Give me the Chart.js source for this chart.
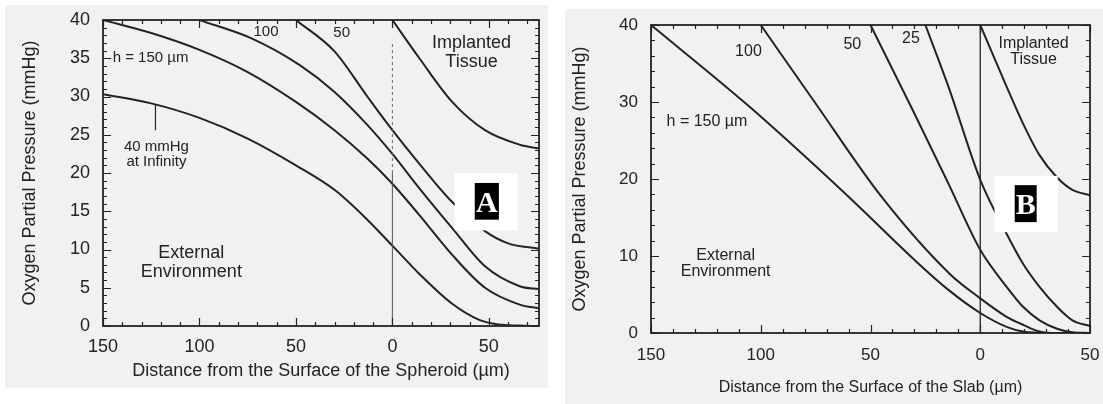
<!DOCTYPE html>
<html>
<head>
<meta charset="utf-8">
<script src="https://cdn.jsdelivr.net/npm/chart.js@4.4.0/dist/chart.umd.min.js"></script>
<style>
  html, body { margin: 0; padding: 0; background: #fff; }
  body { width: 1103px; height: 404px; position: relative; overflow: hidden; }
  canvas { position: absolute; top: 0; }
  #spheroid { left: 0; }
  #slab { left: 548px; }
</style>
</head>
<body>
<canvas id="spheroid" width="548" height="404"></canvas>
<canvas id="slab" width="555" height="404"></canvas>
<script>
const INK = '#232323';
const FONT = '"Liberation Sans", Arial, Helvetica, sans-serif';

// --- Spheroid: distance from surface (negative = outside, in the medium)
const xTicksA = [-150, -100, -50, 0, 50];
const yTicksA = [0, 5, 10, 15, 20, 25, 30, 35, 40];

const infX = [-150, -125, -100, -75, -50, -30, -13, 0, 14, 31, 45, 55, 65, 76];
const infY = [30.3, 29.1, 27.2, 24.5, 21.0, 17.8, 13.9, 10.5, 6.8, 2.9, 0.8, 0.2, 0.05, 0];
const a150X = [-150, -125, -100, -75, -50, -30, -13, 0, 14, 31, 48, 66, 76];
const a150Y = [40, 38.3, 36.1, 33.2, 29.3, 25.6, 21.9, 18.6, 14.5, 9.3, 5.0, 2.8, 2.3];
const a100X = [-100, -73, -48, -30, -13, 0, 14, 31, 48, 66, 76];
const a100Y = [40, 37.6, 34.1, 30.6, 26.3, 22.5, 18.0, 12.8, 7.8, 5.2, 4.8];
const a50X = [-50, -30, -13, 0, 14, 31, 48, 60, 76];
const a50Y = [40, 35.9, 30.0, 25.6, 21.2, 16.2, 12.4, 10.8, 10.1];
const aTissueX = [0, 14, 31, 48, 66, 76];
const aTissueY = [40, 35, 29.3, 25.6, 23.7, 23.2];

// --- Slab
const xTicksB = [-150, -100, -50, 0, 50];
const yTicksB = [0, 10, 20, 30, 40];

const b150X = [-150, -106, -60, -30, -14.5, 0, 12, 20, 30, 50];
const b150Y = [40, 29.6, 17.7, 9.5, 5.6, 2.6, 0.8, 0.15, 0, 0];
const b100X = [-100, -75, -45, -14, 0, 12, 20, 27, 35, 50];
const b100Y = [40, 29.8, 17.7, 7.7, 4.5, 2.1, 1.0, 0.2, 0, 0];
const b50X = [-50, -30, -14.5, 0, 12, 19.5, 27, 35, 42, 50];
const b50Y = [40, 28.5, 19.4, 10.8, 6.0, 3.4, 1.65, 0.56, 0.1, 0];
const b25X = [-25, -14.5, 0, 12, 19.5, 27, 35, 42, 50];
const b25Y = [40, 32, 19.9, 12.9, 9.0, 6.0, 3.4, 1.65, 0.9];
const bTissueX = [0, 12, 19.5, 27, 35, 42, 50];
const bTissueY = [40, 32, 27.2, 23.1, 20.2, 18.6, 17.9];

function curve(xs, ys, extra) {
  return Object.assign({
    data: xs.map((x, i) => ({ x, y: ys[i] })),
    showLine: true,
    borderColor: INK,
    borderWidth: 2,
    pointRadius: 0,
    cubicInterpolationMode: 'monotone',
    fill: false,
  }, extra || {});
}

// paper background, boxed frame with inward ticks, and the in-plot labels
const panelDecor = {
  id: 'panelDecor',
  beforeDraw(chart, args, o) {
    const ctx = chart.ctx;
    const [x0, y0, x1, y1] = o.paperRect;
    ctx.save();
    ctx.fillStyle = '#f1f1f1';
    ctx.fillRect(x0, y0, x1 - x0, y1 - y0);
    ctx.restore();
  },
  afterDatasetsDraw(chart, args, o) {
    const { ctx, chartArea: a, scales: { x, y } } = chart;
    ctx.save();
    ctx.strokeStyle = INK;

    ctx.lineWidth = 1.2;
    ctx.beginPath();
    for (let v = Math.ceil(x.min / o.xMinor) * o.xMinor; v <= x.max; v += o.xMinor) {
      const px = Math.round(x.getPixelForValue(v)) + 0.5;
      const len = v % o.xMajor === 0 ? 8 : 4;
      ctx.moveTo(px, a.bottom); ctx.lineTo(px, a.bottom - len);
      ctx.moveTo(px, a.top); ctx.lineTo(px, a.top + len);
    }
    for (let v = y.min; v <= y.max; v += o.yMinor) {
      const py = Math.round(y.getPixelForValue(v)) + 0.5;
      const len = v % o.yMajor === 0 ? 8 : 4;
      ctx.moveTo(a.left, py); ctx.lineTo(a.left + len, py);
      ctx.moveTo(a.right, py); ctx.lineTo(a.right - len, py);
    }
    ctx.stroke();

    ctx.lineWidth = 1.8;
    ctx.strokeRect(a.left, a.top, a.right - a.left, a.bottom - a.top);

    // short pointer from a label up to its curve
    ctx.lineWidth = 1.2;
    (o.pointers || []).forEach(([vx, v0, v1]) => {
      const px = x.getPixelForValue(vx);
      ctx.beginPath();
      ctx.moveTo(px, y.getPixelForValue(v0));
      ctx.lineTo(px, y.getPixelForValue(v1));
      ctx.stroke();
    });

    ctx.fillStyle = INK;
    ctx.textBaseline = 'middle';
    o.labels.forEach(l => {
      ctx.font = `${l.size}px ${FONT}`;
      ctx.textAlign = l.align || 'center';
      const px = x.getPixelForValue(l.x);
      const py = y.getPixelForValue(l.y);
      l.text.forEach((t, i) => ctx.fillText(t, px, py + i * l.gap));
    });

    // panel letter
    const t = o.tag;
    const rect = (r) => {
      const rx0 = x.getPixelForValue(r[0]), rx1 = x.getPixelForValue(r[1]);
      const ry0 = y.getPixelForValue(r[2]), ry1 = y.getPixelForValue(r[3]);
      return [rx0, ry0, rx1 - rx0, ry1 - ry0];
    };
    ctx.fillStyle = '#ffffff';
    ctx.fillRect(...rect(t.outer));
    ctx.fillStyle = '#000000';
    const inner = rect(t.inner);
    ctx.fillRect(...inner);
    ctx.fillStyle = '#ffffff';
    ctx.font = `bold 30px "Liberation Serif", "Times New Roman", serif`;
    ctx.textAlign = 'center';
    ctx.textBaseline = 'alphabetic';
    ctx.fillText(t.letter, inner[0] + inner[2] / 2, inner[1] + inner[3] - 8);
    ctx.restore();
  },
};

function makePanel(canvas, p) {
  return new Chart(canvas, {
    type: 'scatter',
    data: { datasets: p.datasets },
    options: {
      responsive: false,
      animation: false,
      events: [],
      layout: { padding: p.padding },
      plugins: {
        legend: { display: false },
        tooltip: { enabled: false },
        panelDecor: p.decor,
      },
      scales: {
        x: {
          type: 'linear',
          min: p.xMin,
          max: p.xMax,
          afterBuildTicks: s => { s.ticks = p.xTicks.map(value => ({ value })); },
          afterFit: s => {
            s.height = p.xAxisHeight;
            s.paddingLeft = 0;
            s.paddingRight = 0;
          },
          grid: { display: false, drawTicks: false },
          border: { display: false },
          ticks: {
            padding: p.xTickPad,
            color: INK,
            maxRotation: 0,
            autoSkip: false,
            font: { family: FONT, size: p.tickSize },
            callback: v => Math.abs(v),
          },
          title: {
            display: true,
            text: p.xTitle,
            color: INK,
            font: { family: FONT, size: p.xTitleSize },
            padding: { top: 0, bottom: p.xTitlePad },
          },
        },
        y: {
          type: 'linear',
          min: 0,
          max: 40,
          afterBuildTicks: s => { s.ticks = p.yTicks.map(value => ({ value })); },
          afterFit: s => {
            s.width = p.yAxisWidth;
            s.paddingTop = 0;
            s.paddingBottom = 0;
          },
          grid: { display: false, drawTicks: false },
          border: { display: false },
          ticks: {
            padding: p.yTickPad,
            color: INK,
            autoSkip: false,
            font: { family: FONT, size: p.tickSize },
          },
          title: {
            display: true,
            text: 'Oxygen Partial Pressure (mmHg)',
            color: INK,
            font: { family: FONT, size: 18 },
            padding: { top: p.yTitlePad, bottom: 0 },
          },
        },
      },
    },
    plugins: [panelDecor],
  });
}

makePanel(document.getElementById('spheroid'), {
  datasets: [
    curve([0, 0], [0, 20], { borderWidth: 1, borderColor: '#555', cubicInterpolationMode: 'default' }),
    curve([0, 0], [20, 37], { borderWidth: 1, borderColor: '#666', borderDash: [3, 3], cubicInterpolationMode: 'default' }),
    curve(infX, infY),
    curve(a150X, a150Y),
    curve(a100X, a100Y),
    curve(a50X, a50Y),
    curve(aTissueX, aTissueY),
  ],
  padding: { left: 0, top: 20, right: 9, bottom: 0 },
  xMin: -150, xMax: 76,
  xTicks: xTicksA, yTicks: yTicksA,
  xAxisHeight: 78, yAxisWidth: 103,
  tickSize: 18, xTickPad: 10, yTickPad: 13,
  xTitle: 'Distance from the Surface of the Spheroid (\u00b5m)',
  xTitleSize: 18, xTitlePad: 22, yTitlePad: 19,
  decor: {
    paperRect: [5, 5, 548, 388],
    xMinor: 10, xMajor: 50, yMinor: 1, yMajor: 5,
    pointers: [[-122.8, 25.6, 28.9]],
    labels: [
      { x: -145, y: 35, text: ['h = 150 \u00b5m'], size: 15, align: 'left', gap: 0 },
      { x: -65.5, y: 38.5, text: ['100'], size: 15, gap: 0 },
      { x: -26.3, y: 38.3, text: ['50'], size: 15, gap: 0 },
      { x: 41, y: 37.0, text: ['Implanted', 'Tissue'], size: 18, gap: 19 },
      { x: -122.3, y: 23.4, text: ['40 mmHg', 'at Infinity'], size: 15, gap: 15 },
      { x: -104.2, y: 9.5, text: ['External', 'Environment'], size: 18, gap: 18.5 },
    ],
    tag: { outer: [32.3, 65, 20, 12.5], inner: [42.7, 55.2, 18.7, 13.9], letter: 'A' },
  },
});

makePanel(document.getElementById('slab'), {
  datasets: [
    curve([0, 0], [0, 40], { borderWidth: 1.3, cubicInterpolationMode: 'default' }),
    curve(b150X, b150Y),
    curve(b100X, b100Y),
    curve(b50X, b50Y),
    curve(b25X, b25Y),
    curve(bTissueX, bTissueY),
  ],
  padding: { left: 0, top: 25, right: 13, bottom: 0 },
  xMin: -150, xMax: 50,
  xTicks: xTicksB, yTicks: yTicksB,
  xAxisHeight: 71, yAxisWidth: 103,
  tickSize: 17, xTickPad: 12, yTickPad: 13,
  xTitle: 'Distance from the Surface of the Slab (\u00b5m)',
  xTitleSize: 16, xTitlePad: 7, yTitlePad: 21,
  decor: {
    paperRect: [17, 9, 555, 404],
    xMinor: 10, xMajor: 50, yMinor: 2, yMajor: 10,
    labels: [
      { x: -142.9, y: 27.4, text: ['h = 150 \u00b5m'], size: 16, align: 'left', gap: 0 },
      { x: -105.6, y: 36.5, text: ['100'], size: 16, gap: 0 },
      { x: -58.3, y: 37.4, text: ['50'], size: 16, gap: 0 },
      { x: -31.6, y: 38.2, text: ['25'], size: 16, gap: 0 },
      { x: 24.3, y: 37.6, text: ['Implanted', 'Tissue'], size: 16, gap: 16.5 },
      { x: -116, y: 10.1, text: ['External', 'Environment'], size: 16, gap: 16 },
    ],
    tag: { outer: [6.5, 35.3, 20.4, 13.1], inner: [15.7, 25.7, 19.2, 14.4], letter: 'B' },
  },
});
</script>
</body>
</html>
